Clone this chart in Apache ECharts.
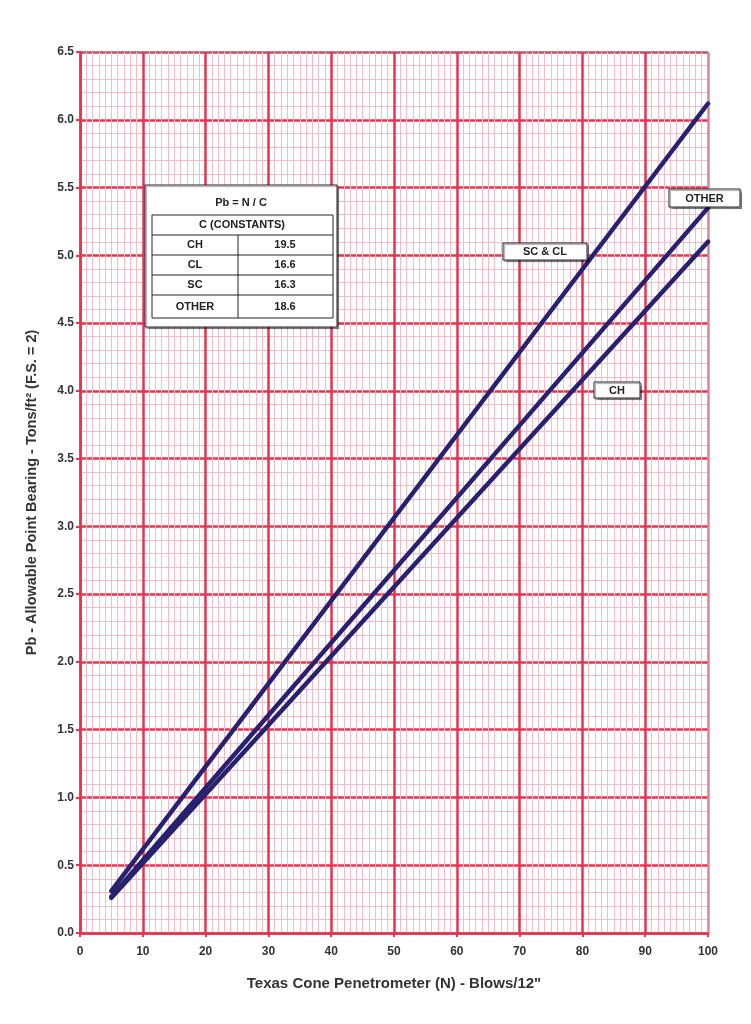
<!DOCTYPE html>
<html>
<head>
<meta charset="utf-8">
<script src="https://cdn.jsdelivr.net/npm/echarts@6/dist/echarts.min.js"></script>
<style>
  html, body { margin: 0; padding: 0; background: #fff; }
  #main { width: 751px; height: 1024px; }
</style>
</head>
<body>
<div id="main"></div>
<script>
// blows per foot where each curve is read
var blows = [5, 100];
// allowable point bearing (tons/ft2)
var scClValues = [0.31, 6.12];
var otherValues = [0.27, 5.35];
var chValues = [0.26, 5.10];

var xTicks = [0, 10, 20, 30, 40, 50, 60, 70, 80, 90, 100];
var yTicks = [0, 0.5, 1, 1.5, 2, 2.5, 3, 3.5, 4, 4.5, 5, 5.5, 6, 6.5];

// table of constants
var soilNames = ['CH', 'CL', 'SC', 'OTHER'];
var soilConstants = ['19.5', '16.6', '16.3', '18.6'];

var lineColor = '#27216f';
var majorRed = '#e8334f';
var minorPink = '#f5bcc7';

function pairs(xs, ys) {
    return xs.map(function (x, i) { return [x, ys[i]]; });
}

// colours for the major grid, top / right border is greyer
var yLineColors = yTicks.map(function (v, i) { return i === yTicks.length - 1 ? '#b35565' : majorRed; });
var xLineColors = xTicks.map(function (v, i) { return i === xTicks.length - 1 ? '#cf8a98' : majorRed; });

var font = 'Liberation Sans, Arial, sans-serif';
var shadow = { shadowColor: 'rgba(0,0,0,0.35)', shadowOffsetX: 1.5, shadowOffsetY: 1.5, shadowBlur: 1 };

function txt(x, y, text) {
    return { type: 'text', x: x, y: y, z: 102,
             style: { text: text, fill: '#222', font: 'bold 11px ' + font, align: 'center', verticalAlign: 'middle' } };
}

function boxLabel(x, y, w, h, text) {
    return {
        type: 'group',
        x: x, y: y,
        children: [
            { type: 'rect', z: 100, shape: { x: 0, y: 0, width: w, height: h },
              style: Object.assign({ fill: '#fff', stroke: '#222', lineWidth: 1 }, shadow) },
            txt(w / 2, h / 2 + 0.5, text)
        ]
    };
}

function constantsTable() {
    var children = [
        { type: 'rect', z: 100, shape: { x: 0, y: 0, width: 192, height: 142 },
          style: Object.assign({ fill: '#fff', stroke: '#222', lineWidth: 1 }, shadow) },
        txt(96, 18, 'Pb = N / C'),
        { type: 'rect', z: 101, shape: { x: 7, y: 30, width: 181, height: 103 },
          style: { fill: '#fff', stroke: '#222', lineWidth: 1 } },
        txt(97, 40, 'C (CONSTANTS)'),
        { type: 'line', z: 101, shape: { x1: 93, y1: 50, x2: 93, y2: 133 }, style: { stroke: '#222', lineWidth: 1 } }
    ];
    var rowTops = [50, 70, 90, 110];
    rowTops.forEach(function (top, i) {
        children.push({ type: 'line', z: 101, shape: { x1: 7, y1: top, x2: 188, y2: top }, style: { stroke: '#222', lineWidth: 1 } });
        var mid = top + (i === 3 ? 11.5 : 10);
        children.push(txt(50, mid, soilNames[i]));
        children.push(txt(140, mid, soilConstants[i]));
    });
    return { type: 'group', x: 145, y: 185, children: children };
}

var chart = echarts.init(document.getElementById('main'), null, { renderer: 'canvas' });

var option = {
    backgroundColor: '#fff',
    animation: false,
    grid: { left: 80, right: 43, top: 52, bottom: 91, containLabel: false },
    xAxis: {
        type: 'value',
        min: 0, max: 100, interval: 10,
        name: 'Texas Cone Penetrometer (N) - Blows/12"',
        nameLocation: 'middle',
        nameGap: 43,
        nameTextStyle: { fontFamily: font, fontWeight: 'bold', fontSize: 15, color: '#333' },
        axisLine: { show: true, lineStyle: { color: majorRed, width: 2.5 } },
        axisTick: { show: true, length: 4, lineStyle: { color: majorRed, width: 2 } },
        axisLabel: { fontFamily: font, fontWeight: 'bold', fontSize: 12, color: '#333', margin: 13 },
        splitLine: { show: true, lineStyle: { color: xLineColors, width: 2.5 } },
        minorTick: { show: false, splitNumber: 10 },
        minorSplitLine: { show: true, lineStyle: { color: minorPink, width: 1 } }
    },
    yAxis: {
        type: 'value',
        min: 0, max: 6.5, interval: 0.5,
        name: 'Pb - Allowable Point Bearing - Tons/ft\u00b2 (F.S. = 2)',
        nameLocation: 'middle',
        nameGap: 41,
        nameTextStyle: { fontFamily: font, fontWeight: 'bold', fontSize: 14.5, color: '#333' },
        axisLine: { show: true, lineStyle: { color: majorRed, width: 2.5 } },
        axisTick: { show: true, length: 4, lineStyle: { color: majorRed, width: 2 } },
        axisLabel: {
            fontFamily: font, fontWeight: 'bold', fontSize: 12, color: '#333', margin: 6,
            formatter: function (v) { return v.toFixed(1); }
        },
        splitLine: { show: true, lineStyle: { color: yLineColors, width: 2.5 } },
        minorTick: { show: false, splitNumber: 5 },
        minorSplitLine: { show: true, lineStyle: { color: minorPink, width: 1 } }
    },
    series: [
        { name: 'SC & CL', type: 'line', data: pairs(blows, scClValues), showSymbol: false, z: 10,
          lineStyle: { color: lineColor, width: 4.5, cap: 'round' } },
        { name: 'OTHER', type: 'line', data: pairs(blows, otherValues), showSymbol: false, z: 10,
          lineStyle: { color: lineColor, width: 4.5, cap: 'round' } },
        { name: 'CH', type: 'line', data: pairs(blows, chValues), showSymbol: false, z: 10,
          lineStyle: { color: lineColor, width: 4.5, cap: 'round' } }
    ],
    graphic: [
        constantsTable(),
        boxLabel(669, 189, 71, 18, 'OTHER'),
        boxLabel(503, 243, 84, 17, 'SC & CL'),
        boxLabel(594, 382, 46, 16, 'CH')
    ]
};

chart.setOption(option);
</script>
</body>
</html>
